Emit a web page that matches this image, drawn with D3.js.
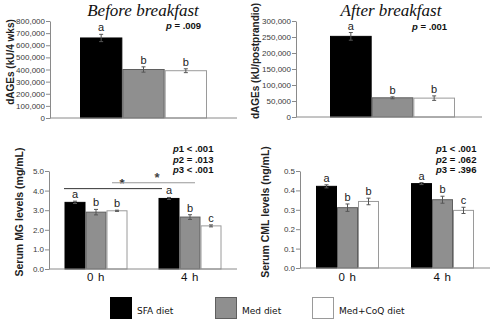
<!DOCTYPE html>
<html><head><meta charset="utf-8">
<script src="https://cdn.jsdelivr.net/npm/d3@7"></script>
<style>body{margin:0;background:#fff}svg{display:block}</style>
</head><body>
<script>
// ---- data ----
const diets = ["SFA diet", "Med diet", "Med+CoQ diet"];
const dietFill = ["#000000", "#8f8f8f", "#ffffff"];
const dietStroke = ["#000000", "#5f5f5f", "#9a9a9a"];

const beforeValues = [660000, 400000, 390000];
const beforeErrors = [30000, 22000, 16000];
const beforeLetters = ["a", "b", "b"];

const afterValues = [252000, 60000, 59000];
const afterErrors = [12000, 3000, 7000];
const afterLetters = ["a", "b", "b"];

const timepoints = ["0 h", "4 h"];
const mgValues = [[3.4, 2.9, 2.97], [3.6, 2.65, 2.2]];
const mgErrors = [[0.06, 0.14, 0.03], [0.05, 0.12, 0.05]];
const mgLetters = [["a", "b", "b"], ["a", "b", "c"]];

const cmlValues = [[0.421, 0.311, 0.343], [0.435, 0.352, 0.297]];
const cmlErrors = [[0.008, 0.019, 0.017], [0.005, 0.018, 0.016]];
const cmlLetters = [["a", "b", "b"], ["a", "b", "c"]];

const beforeTicks = [0, 100000, 200000, 300000, 400000, 500000, 600000, 700000, 800000];
const afterTicks = [0, 50000, 100000, 150000, 200000, 250000, 300000];
const mgTicks = [0, 1, 2, 3, 4, 5];
const cmlTicks = [0, 0.1, 0.2, 0.3, 0.4, 0.5];

const svg = d3.select("body").append("svg").attr("width", 490).attr("height", 330);
const F = "Liberation Sans, Arial, sans-serif";

function yAxis(g, y, x0, ticks, fmt) {
  const ax = g.append("g").attr("transform", `translate(${x0},0)`)
    .call(d3.axisLeft(y).tickValues(ticks).tickFormat(fmt).tickSize(4).tickSizeOuter(0));
  ax.select(".domain").attr("stroke", "#8a8a8a");
  ax.selectAll(".tick line").attr("stroke", "#8a8a8a");
  ax.selectAll(".tick text").attr("font-family", F).attr("font-size", 8).attr("fill", "#3a3a3a").attr("x", -5);
}
function xLine(g, x1, x2, yv) {
  g.append("line").attr("x1", x1).attr("x2", x2).attr("y1", yv).attr("y2", yv).attr("stroke", "#8a8a8a");
}
function yLabel(g, text, x, yc, fs) {
  g.append("text").attr("transform", `translate(${x},${yc}) rotate(-90)`).attr("text-anchor", "middle")
    .attr("dominant-baseline", "central").attr("font-family", F).attr("font-weight", "bold")
    .attr("font-size", fs).attr("fill", "#222").text(text);
}
function drawBars(g, xs, bw, y, vals, errs, letters) {
  vals.forEach((v, i) => {
    const x = xs(i);
    g.append("rect").attr("x", x + 0.5).attr("y", y(v)).attr("width", bw - 1).attr("height", y(0) - y(v))
      .attr("fill", dietFill[i]).attr("stroke", dietStroke[i]).attr("stroke-width", 1);
    const cx = x + bw / 2, t = y(v + errs[i]), b = y(v - errs[i]);
    g.append("line").attr("x1", cx).attr("x2", cx).attr("y1", t).attr("y2", b).attr("stroke", "#555");
    g.append("line").attr("x1", cx - 2).attr("x2", cx + 2).attr("y1", t).attr("y2", t).attr("stroke", "#555");
    g.append("line").attr("x1", cx - 2).attr("x2", cx + 2).attr("y1", b).attr("y2", b).attr("stroke", "#555");
    g.append("text").attr("x", cx).attr("y", t - 3).attr("text-anchor", "middle").attr("font-family", F)
      .attr("font-size", 11).attr("fill", "#222").text(letters[i]);
  });
}
function title(text, x, yv) {
  svg.append("text").attr("x", x).attr("y", yv).attr("text-anchor", "middle")
    .attr("font-family", "Liberation Serif, serif").attr("font-style", "italic")
    .attr("font-size", 17).attr("fill", "#111").text(text);
}
function pText(g, lines, x, y0, dy) {
  lines.forEach((l, i) => {
    const t = g.append("text").attr("x", x).attr("y", y0 + i * dy).attr("font-family", F)
      .attr("font-weight", "bold").attr("font-size", 9.5).attr("fill", "#111");
    t.append("tspan").attr("font-style", "italic").text(l[0]);
    t.append("tspan").text(l[1]);
  });
}

// ---- Panel 1: Before breakfast ----
{
  const g = svg.append("g");
  const y = d3.scaleLinear().domain([0, 800000]).range([118, 21]);
  const xb = d3.scaleBand().domain([0, 1, 2]).range([80, 207]);
  drawBars(g, xb, xb.bandwidth(), y, beforeValues, beforeErrors, beforeLetters);
  yAxis(g, y, 50, beforeTicks, d3.format(","));
  xLine(g, 50, 237, y(0));
  yLabel(g, "dAGEs (kU/4 wks)", 10, 62, 10);
  title("Before breakfast", 143, 16);
  pText(g, [["p", " = .009"]], 166, 29, 0);
}
// ---- Panel 2: After breakfast ----
{
  const g = svg.append("g");
  const y = d3.scaleLinear().domain([0, 300000]).range([117, 21]);
  const xb = d3.scaleBand().domain([0, 1, 2]).range([330, 455]);
  drawBars(g, xb, xb.bandwidth(), y, afterValues, afterErrors, afterLetters);
  yAxis(g, y, 296, afterTicks, d3.format(","));
  xLine(g, 296, 482, y(0));
  yLabel(g, "dAGEs (kU/postprandio)", 255, 61, 10);
  title("After breakfast", 391, 16);
  pText(g, [["p", " = .001"]], 412, 30, 0);
}
// grouped panels
function grouped(g, x0, x1, yr, dom, ticks, fmt, vals, errs, letters) {
  const y = d3.scaleLinear().domain(dom).range(yr);
  const xg = d3.scaleBand().domain(timepoints).range([x0, x1]).paddingInner(0).paddingOuter(0);
  const bw = 21;
  timepoints.forEach((tp, gi) => {
    const c = xg(tp) + xg.bandwidth() / 2;
    const xs = d3.scaleBand().domain([0, 1, 2]).range([c - 1.5 * bw, c + 1.5 * bw]);
    drawBars(g, xs, bw, y, vals[gi], errs[gi], letters[gi]);
    g.append("text").attr("x", c).attr("y", 281).attr("text-anchor", "middle").attr("font-family", F)
      .attr("font-size", 11.5).attr("letter-spacing", 0.6).attr("fill", "#111").text(tp);
  });
  yAxis(g, y, x0, ticks, fmt);
  xLine(g, x0, x1, y(0));
  return { y, xg, bw };
}
// ---- Panel 3: MG ----
{
  const g = svg.append("g");
  const r = grouped(g, 49, 237, [269, 171], [0, 5], mgTicks, d3.format(".1f"), mgValues, mgErrors, mgLetters);
  yLabel(g, "Serum MG levels (mg/mL)", 19, 212, 10.5);
  const y = r.y;
  // significance lines
  g.append("line").attr("x1", 64).attr("x2", 162).attr("y1", y(4.1)).attr("y2", y(4.1)).attr("stroke", "#333");
  g.append("text").attr("x", 122).attr("y", y(4.1) - 1).attr("text-anchor", "middle").attr("font-family", F)
    .attr("font-size", 13).attr("font-weight", "bold").attr("fill", "#333").text("*");
  g.append("line").attr("x1", 112).attr("x2", 195).attr("y1", y(4.4)).attr("y2", y(4.4)).attr("stroke", "#999");
  g.append("text").attr("x", 157).attr("y", y(4.4) - 1).attr("text-anchor", "middle").attr("font-family", F)
    .attr("font-size", 13).attr("font-weight", "bold").attr("fill", "#444").text("*");
  pText(g, [["p", "1 < .001"], ["p", "2 = .013"], ["p", "3 < .001"]], 173, 152, 10.5);
}
// ---- Panel 4: CML ----
{
  const g = svg.append("g");
  const r = grouped(g, 300, 490, [268, 171], [0, 0.5], cmlTicks, d3.format(".1f"), cmlValues, cmlErrors, cmlLetters);
  yLabel(g, "Serum CML levels (ng/mL)", 265, 212, 10.5);
  pText(g, [["p", "1 < .001"], ["p", "2 = .062"], ["p", "3 = .396"]], 436, 152, 10.5);
}
// ---- legend ----
{
  const lx = [110, 215, 312];
  diets.forEach((d, i) => {
    svg.append("rect").attr("x", lx[i] + 0.5).attr("y", 297.5).attr("width", 21).attr("height", 21)
      .attr("fill", dietFill[i]).attr("stroke", dietStroke[i]);
    svg.append("text").attr("x", lx[i] + 27).attr("y", 311).attr("dominant-baseline", "central")
      .attr("font-family", "DejaVu Sans, Verdana, sans-serif").attr("font-size", 9).attr("fill", "#111").text(d);
  });
}
</script>
</body></html>
